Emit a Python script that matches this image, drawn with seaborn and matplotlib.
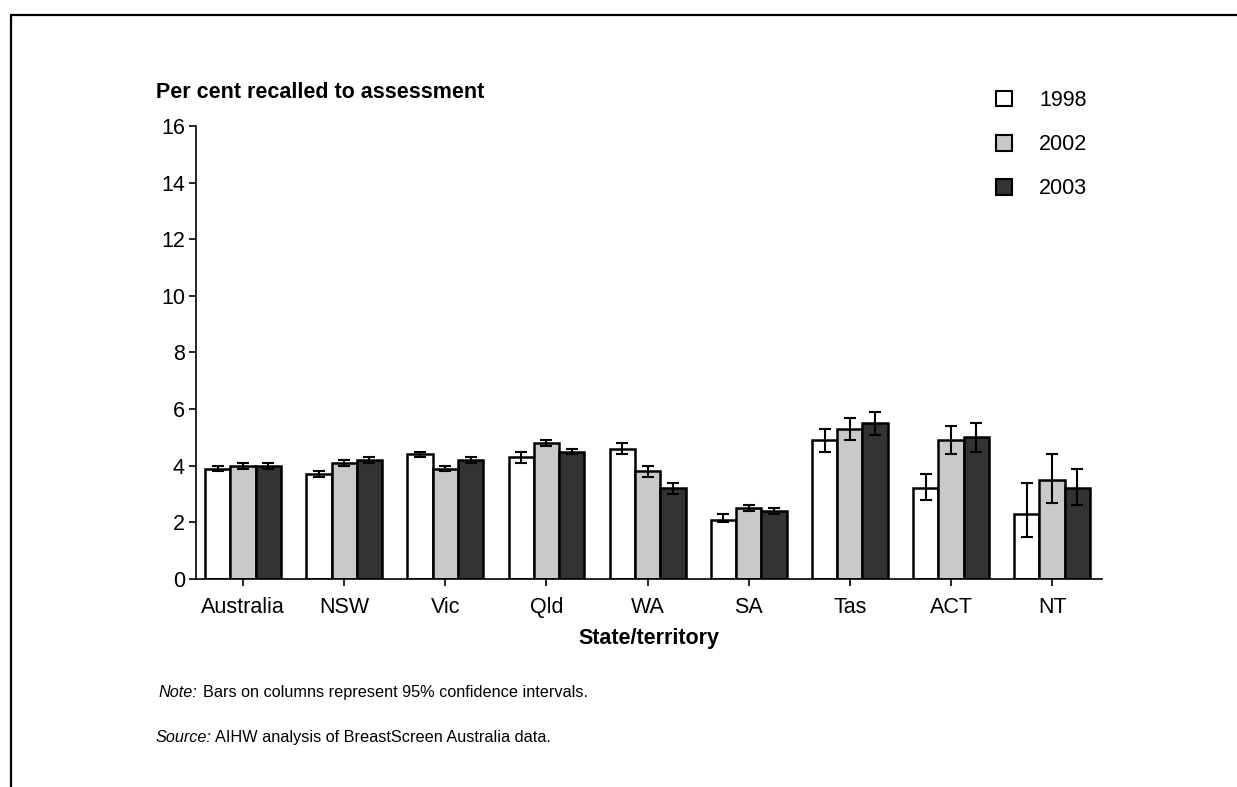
import pandas as pd
import seaborn as sns
import matplotlib.pyplot as plt
from matplotlib.lines import Line2D

# --- Data ---
states = ['Australia', 'NSW', 'Vic', 'Qld', 'WA', 'SA', 'Tas', 'ACT', 'NT']
years = ['1998', '2002', '2003']

rate_1998 = [3.9, 3.7, 4.4, 4.3, 4.6, 2.1, 4.9, 3.2, 2.3]
rate_2002 = [4.0, 4.1, 3.9, 4.8, 3.8, 2.5, 5.3, 4.9, 3.5]
rate_2003 = [4.0, 4.2, 4.2, 4.5, 3.2, 2.4, 5.5, 5.0, 3.2]

low_1998 = [3.8, 3.6, 4.3, 4.1, 4.4, 2.0, 4.5, 2.8, 1.5]
high_1998 = [4.0, 3.8, 4.5, 4.5, 4.8, 2.3, 5.3, 3.7, 3.4]
low_2002 = [3.9, 4.0, 3.8, 4.7, 3.6, 2.4, 4.9, 4.4, 2.7]
high_2002 = [4.1, 4.2, 4.0, 4.9, 4.0, 2.6, 5.7, 5.4, 4.4]
low_2003 = [3.9, 4.1, 4.1, 4.4, 3.0, 2.3, 5.1, 4.5, 2.6]
high_2003 = [4.1, 4.3, 4.3, 4.6, 3.4, 2.5, 5.9, 5.5, 3.9]

colors = ['#ffffff', '#c9c9c9', '#333333']

df = pd.DataFrame({
    'State': states * 3,
    'Year': [y for y in years for _ in states],
    'Rate': rate_1998 + rate_2002 + rate_2003,
    'Low': low_1998 + low_2002 + low_2003,
    'High': high_1998 + high_2002 + high_2003,
})

# --- Plotting ---
sns.set_style('ticks')
plt.rcParams['font.family'] = ['Liberation Sans', 'DejaVu Sans']
plt.rcParams['text.color'] = 'black'
plt.rcParams['axes.labelcolor'] = 'black'

fig = plt.figure(figsize=(12.37, 7.87), dpi=100)
ax = fig.add_axes([0.1585, 0.2643, 0.7325, 0.5756])

sns.barplot(data=df, x='State', y='Rate', hue='Year', order=states,
            hue_order=years, palette=colors, width=0.75, errorbar=None,
            edgecolor='black', linewidth=1.8, saturation=1, ax=ax)

# confidence interval whiskers at the bar centres
for year, cont in zip(years, ax.containers):
    sub = df[df['Year'] == year].set_index('State').loc[states]
    xs = [b.get_x() + b.get_width() / 2 for b in cont]
    ax.errorbar(xs, sub['Rate'],
                yerr=[sub['Rate'] - sub['Low'], sub['High'] - sub['Rate']],
                fmt='none', ecolor='black', elinewidth=1.5, capsize=4.5,
                capthick=1.5, zorder=5)

ax.set_ylim(0, 16)
ax.set_yticks(range(0, 17, 2))
ax.set_xlim(-0.465, 8.495)
sns.despine(ax=ax)
for s in ['left', 'bottom']:
    ax.spines[s].set_linewidth(1.2)
    ax.spines[s].set_color('black')
ax.tick_params(axis='both', labelsize=15.5, length=5, width=1.2,
               colors='black', pad=3)
ax.tick_params(axis='x', pad=8)
ax.set_xlabel('State/territory', fontsize=15.5, fontweight='bold', labelpad=7)
ax.set_ylabel('')

fig.text(156 / 1237, 1 - 92 / 787, 'Per cent recalled to assessment',
         fontsize=15.5, fontweight='bold', va='center', ha='left')

leg = ax.legend(loc='upper left', bbox_to_anchor=(996 / 1237, 1 - 90 / 787),
                bbox_transform=fig.transFigure, frameon=False, fontsize=15.5,
                handlelength=0.75, handleheight=0.75, labelspacing=1.08,
                handletextpad=1.25, borderpad=0, borderaxespad=0, title=None)
for h in leg.legend_handles:
    h.set_edgecolor('black')
    h.set_linewidth(1.5)

# notes
fig.text(159 / 1237, 1 - 697 / 787, 'Note:', fontsize=11.7,
         style='italic', va='baseline')
fig.text(203 / 1237, 1 - 697 / 787,
         'Bars on columns represent 95% confidence intervals.',
         fontsize=11.7, va='baseline')
fig.text(156 / 1237, 1 - 742 / 787, 'Source:', fontsize=11.7,
         style='italic', va='baseline')
fig.text(215 / 1237, 1 - 742 / 787,
         'AIHW analysis of BreastScreen Australia data.',
         fontsize=11.7, va='baseline')

# page frame (top and left edges)
fig.add_artist(Line2D([11 / 1237, 1], [1 - 15 / 787, 1 - 15 / 787],
                      transform=fig.transFigure, color='black', lw=1.6))
fig.add_artist(Line2D([11 / 1237, 11 / 1237], [0, 1 - 15 / 787],
                      transform=fig.transFigure, color='black', lw=1.6))

fig.savefig('out.png', dpi=100)
